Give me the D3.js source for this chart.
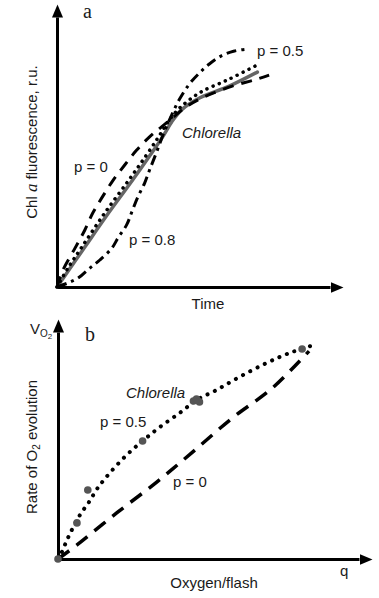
<!DOCTYPE html>
<html>
<head>
<meta charset="utf-8">
<script src="https://cdn.jsdelivr.net/npm/d3@7"></script>
<style>
	body { margin: 0; background: #fff; }
	text { font-family: "Liberation Sans", Arial, sans-serif; fill: #1a1a1a; }
	.panel { font-family: "Liberation Serif", "Times New Roman", serif; font-size: 20px; }
	.axis path { stroke: #000; stroke-width: 3; }
</style>
</head>
<body>
<svg class="chart"></svg>
<script>
/* Two schematic panels: fluorescence induction (a) and O2 yield per flash (b) */

// Panel a - curves (time, fluorescence), relative units 0..100
var chlorellaA_x = [0, 5.1, 10.2, 18.6, 27.7, 33.9, 38.7, 42, 45.6, 52.2, 63.1, 73.4];
var chlorellaA_y = [0, 7.4, 14.8, 27, 39.6, 48.5, 55.6, 61.1, 65.6, 70, 74.4, 79.6];
var p05A_x = [0, 4, 9.1, 17.2, 26.3, 32.5, 37.2, 40.9, 44.9, 52.2, 63.1, 74.1];
var p05A_y = [0, 7, 14.8, 27, 39.6, 48.5, 55.6, 61.5, 66.3, 71.9, 77, 82.6];
var p0A_x = [0, 2.2, 6.6, 10.2, 13.1, 16.4, 20.4, 24.8, 29.2, 33.9, 38.3, 42.3, 46.7, 52.2, 64.2, 72.3, 77.7];
var p0A_y = [0, 6.3, 14.4, 21.1, 27.4, 33, 39.3, 45.2, 50.7, 55.6, 59.3, 62.6, 66.3, 69.6, 74.4, 76.7, 78.5];
var p08A_x = [0, 4, 7.7, 12, 15.7, 20.1, 22.3, 25.5, 27.4, 29.6, 32.1, 33.9, 36.5, 39.1, 42, 44.9, 48.5, 52.2, 55.8, 60.2, 65, 69.7];
var p08A_y = [0, 1.5, 3.3, 7, 10, 14.4, 18.1, 23, 27.8, 33.3, 38.5, 43.3, 50, 57, 63.7, 69.6, 75.2, 79.3, 82.6, 85.6, 87.4, 88.1];

// Panel b - curves (oxygen per flash, rate), relative units 0..100
var p05B_x = [0, 1.3, 3.3, 7.3, 10.3, 13.2, 17.2, 22.8, 28.1, 33.8, 40.4, 46, 52.6, 60.3, 69.2, 76.8, 86.1];
var p05B_y = [0, 3.1, 9.3, 19.4, 25.1, 31.3, 37.9, 45.8, 52, 58.1, 64.3, 70, 74.4, 80.2, 86.3, 90.7, 94.7];
var p0B_x = [0, 6.3, 19.5, 32.8, 44.7, 57.9, 71.2, 83.4];
var p0B_y = [0, 6.2, 20.3, 33.9, 47.1, 62.1, 75.3, 91.6];
// Chlorella measured points
var chlorellaB_x = [0, 6.3, 9.9, 28.1, 45, 46, 47, 81.1];
var chlorellaB_y = [0, 15.9, 30.4, 52, 69.6, 70.5, 69.2, 92.5];

function zip(xs, ys) {
	return xs.map(function(v, i) { return {x: v, y: ys[i]}; });
}

var W = 379, H = 598;

var svg = d3.select(".chart")
	.attr("width", W)
	.attr("height", H);

svg.append("defs").append("marker")
	.attr("id", "arrow")
	.attr("markerUnits", "userSpaceOnUse")
	.attr("markerWidth", 14)
	.attr("markerHeight", 12)
	.attr("viewBox", "0 -6 14 12")
	.attr("refX", 0)
	.attr("refY", 0)
	.attr("orient", "auto")
  .append("path")
	.attr("d", "M0,-5.5L13,0L0,5.5Z")
	.attr("fill", "#000");

// draw one panel's axes, returns scales
function drawAxes(x0, x1, y0, y1) {
	var x = d3.scaleLinear().domain([0, 100]).range([x0, x1]);
	var y = d3.scaleLinear().domain([0, 100]).range([y0, y1]);

	svg.append("g")
		.attr("class", "axis")
		.attr("transform", "translate(0," + y0 + ")")
		.call(d3.axisBottom(x).tickValues([]).tickSizeOuter(0))
		.select(".domain").attr("marker-end", "url(#arrow)");

	svg.append("g")
		.attr("class", "axis")
		.attr("transform", "translate(" + x0 + ",0)")
		.call(d3.axisLeft(y).tickValues([]).tickSizeOuter(0))
		.select(".domain").attr("marker-end", "url(#arrow)");

	return {x: x, y: y};
}

function drawCurve(s, data, color, width, dash, cap) {
	var line = d3.line()
		.x(function(d) { return s.x(d.x); })
		.y(function(d) { return s.y(d.y); })
		.curve(d3.curveCatmullRom.alpha(0.5));
	svg.append("path")
		.datum(data)
		.attr("d", line)
		.attr("fill", "none")
		.attr("stroke", color)
		.attr("stroke-width", width)
		.attr("stroke-dasharray", dash)
		.attr("stroke-linecap", cap || "butt");
}

function label(x, y, txt, opts) {
	opts = opts || {};
	return svg.append("text")
		.attr("x", x)
		.attr("y", y)
		.attr("font-size", opts.size || 15)
		.attr("font-style", opts.italic ? "italic" : null)
		.attr("text-anchor", opts.anchor || "start")
		.text(txt);
}

// ---- panel a ----
var sa = drawAxes(57, 330, 287, 17);

drawCurve(sa, zip(chlorellaA_x, chlorellaA_y), "#666", 3.5, null, "round");
drawCurve(sa, zip(p0A_x, p0A_y), "#000", 3, "11,8");
drawCurve(sa, zip(p08A_x, p08A_y), "#000", 3, "10,5,3,5");
drawCurve(sa, zip(p05A_x, p05A_y), "#000", 3.5, "0.1,6.5", "round");

svg.append("text").attr("class", "panel").attr("x", 83).attr("y", 18).text("a");
label(257, 56, "p = 0.5");
label(182, 138, "Chlorella", {italic: true});
label(74, 172, "p = 0");
label(129, 245, "p = 0.8");
label(208, 309, "Time", {anchor: "middle"});

var yla = svg.append("text")
	.attr("transform", "translate(37,142) rotate(-90)")
	.attr("text-anchor", "middle")
	.attr("font-size", 15);
yla.append("tspan").text("Chl ");
yla.append("tspan").attr("font-family", "Liberation Serif, serif").attr("font-style", "italic").attr("font-size", 17).text("a");
yla.append("tspan").text(" fluorescence, r.u.");

// ---- panel b ----
var sb = drawAxes(58, 359, 559, 332);

drawCurve(sb, zip(p0B_x, p0B_y), "#000", 3.5, "14,9");
drawCurve(sb, zip(p05B_x, p05B_y), "#000", 4, "0.1,8", "round");

svg.selectAll(".pt")
	.data(zip(chlorellaB_x, chlorellaB_y))
  .enter().append("circle")
	.attr("class", "pt")
	.attr("cx", function(d) { return sb.x(d.x); })
	.attr("cy", function(d) { return sb.y(d.y); })
	.attr("r", 3.8)
	.attr("fill", "#555");

svg.append("text").attr("class", "panel").attr("x", 85).attr("y", 341).text("b");
label(126, 398, "Chlorella", {italic: true});
label(100, 427, "p = 0.5");
label(173, 487, "p = 0");
label(214, 588, "Oxygen/flash", {anchor: "middle"});
label(340, 576, "q");

var vo = svg.append("text").attr("x", 30).attr("y", 334).attr("font-size", 15);
vo.append("tspan").text("V");
vo.append("tspan").attr("font-size", 10).attr("dy", 3).text("O");
vo.append("tspan").attr("font-size", 8).attr("dy", 2).text("2");

var ylb = svg.append("text")
	.attr("transform", "translate(37,447) rotate(-90)")
	.attr("text-anchor", "middle")
	.attr("font-size", 15);
ylb.append("tspan").text("Rate of O");
ylb.append("tspan").attr("font-size", 10).attr("dy", 3).text("2");
ylb.append("tspan").attr("dy", -3).text(" evolution");
</script>
</body>
</html>
